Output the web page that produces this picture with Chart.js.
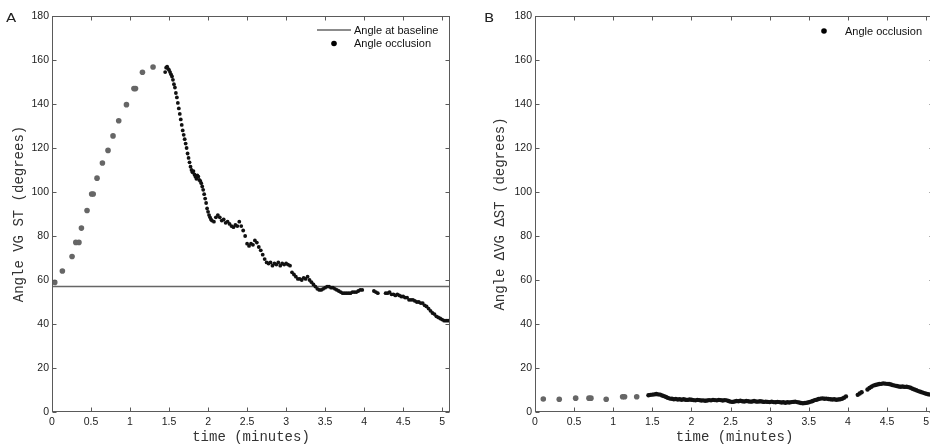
<!DOCTYPE html>
<html><head><meta charset="utf-8">
<script src="https://cdn.jsdelivr.net/npm/chart.js@4.4.0/dist/chart.umd.min.js"></script>
<style>
html,body{margin:0;padding:0;overflow:hidden;background:#fff;width:930px;height:446px;}
#wa{position:absolute;left:0;top:0;width:465px;height:446px;}
#wb{position:absolute;left:465px;top:0;width:480px;height:446px;}
</style></head><body>
<div id="wa"><canvas id="ca" width="465" height="446"></canvas></div>
<div id="wb"><canvas id="cb" width="480" height="446"></canvas></div>
<script>
// ---------- DATA ----------
const xTicksStep = 0.5;          // time axis: 0 .. 5 (minutes)
const yTicksStep = 20;           // angle axis: 0 .. 180 (degrees)
const baselineAngle = 57;        // panel A horizontal line

// Panel A: early (sparse, grey) samples [time, angle]
const aEarly = [[0.035,58.9],[0.133,64.1],[0.257,70.7],[0.305,77.1],[0.345,77.1],[0.377,83.6],[0.449,91.6],
  [0.508,99.1],[0.528,99.1],[0.577,106.3],[0.646,113.2],[0.718,118.9],[0.782,125.5],[0.855,132.4],
  [0.954,139.7],[1.05,147.0],[1.07,147.0],[1.159,154.4],[1.295,156.8]];

// Panel A: dense (black) samples [time, angle]
const aDense = [[1.45,154.5],[1.4625,156.5],[1.475,157],[1.4875,156],[1.5,155.5],[1.5125,154.5],[1.525,153.5],
  [1.5375,152.5],[1.55,151],[1.5625,149],[1.575,147.5],[1.5875,145],[1.6,143],[1.6125,140.5],[1.625,138],
  [1.6375,135.5],[1.65,133],[1.6625,130.5],[1.675,128],[1.6875,126],[1.7,124],[1.7125,122],[1.725,120],
  [1.7375,117.5],[1.75,115.5],[1.7625,113.5],[1.775,111.5],[1.7875,110],[1.8,109],[1.8125,109.5],[1.825,108],
  [1.8375,107],[1.85,106],[1.8625,107.5],[1.875,107],[1.8875,105.5],[1.9,105],[1.9125,104],[1.925,102.5],
  [1.9375,101],[1.95,99],[1.9625,97],[1.975,95],[1.9875,92.5],[2.0,91],[2.0125,89.5],[2.025,88.5],[2.0375,87.5],
  [2.05,87],[2.075,86.5],[2.1,88.5],[2.125,89.5],[2.15,88.5],[2.175,87],[2.2,87.5],[2.225,86],[2.25,86.5],
  [2.275,85.5],[2.3,84.5],[2.325,84],[2.35,85],[2.375,84.5],[2.4,86.5],[2.425,84.5],[2.45,82.5],[2.475,80],
  [2.5,76.5],[2.525,75.5],[2.55,76.5],[2.575,76],[2.6,78],[2.625,77],[2.65,75],[2.675,73.5],[2.7,71.5],
  [2.725,69.5],[2.75,68],[2.775,67.5],[2.8,68],[2.825,66.5],[2.85,67.5],[2.875,67],[2.9,68],[2.925,66.5],
  [2.95,67.5],[2.975,67],[3.0,67.5],[3.025,67],[3.05,66.5],[3.075,63.5],[3.1,62.5],[3.125,61.5],[3.15,60.5],
  [3.175,60.5],[3.2,60],[3.225,61],[3.25,60.5],[3.275,61.5],[3.3,60],[3.325,59],[3.35,58],[3.375,57],[3.4,56],
  [3.425,55.5],[3.45,55.5],[3.475,56],[3.5,56.5],[3.525,57],[3.55,57],[3.575,56.5],[3.6,56.5],[3.625,56],
  [3.65,55.5],[3.675,55],[3.7,54.5],[3.725,54],[3.75,54],[3.775,54],[3.8,54],[3.825,54],[3.85,54.5],[3.875,54.5],
  [3.9,54.5],[3.925,55],[3.95,55.5],[3.975,55.5],[4.125,55],[4.15,54.5],[4.175,54],[4.275,54],[4.3,54],
  [4.325,54.5],[4.35,53.5],[4.375,53.5],[4.4,53],[4.425,53.5],[4.45,53],[4.475,52.5],[4.5,52.5],[4.525,52],
  [4.55,52],[4.575,51],[4.6,51],[4.625,51],[4.65,50.5],[4.675,50],[4.7,50],[4.725,49.5],[4.75,49.5],[4.775,48.5],
  [4.8,48],[4.825,47],[4.85,46],[4.875,45],[4.9,44.5],[4.925,43.5],[4.95,43],[4.975,42.5],[5.0,42],[5.025,41.5],
  [5.05,41.5],[5.075,41.5],[5.1,41.5]];

// Panel B: early (sparse, grey) samples [time, angle]
const bEarly = [[0.106,5.9],[0.31,5.8],[0.52,6.3],[0.69,6.3],[0.715,6.3],[0.91,5.8],[1.12,6.9],[1.145,6.9],[1.30,6.9]];

// Panel B: dense (black) samples [time, angle]
const bDense = [[1.45,7.6],[1.475,7.8],[1.5,7.9],[1.525,8.0],[1.55,8.2],[1.575,8.0],[1.6,7.9],[1.625,7.5],[1.65,7.2],
  [1.675,6.8],[1.7,6.4],[1.725,6.1],[1.75,6.0],[1.775,5.8],[1.8,5.9],[1.825,5.7],[1.85,5.8],[1.875,5.6],[1.9,5.8],
  [1.925,5.6],[1.95,5.5],[1.975,5.7],[2.0,5.6],[2.025,5.4],[2.05,5.3],[2.075,5.5],[2.1,5.4],[2.125,5.2],[2.15,5.3],
  [2.175,5.1],[2.2,5.2],[2.225,5.4],[2.25,5.3],[2.275,5.5],[2.3,5.4],[2.325,5.3],[2.35,5.5],[2.375,5.4],[2.4,5.2],
  [2.425,5.4],[2.45,5.3],[2.475,5.0],[2.5,4.7],[2.525,4.6],[2.55,4.8],[2.575,5.0],[2.6,4.9],[2.625,5.1],[2.65,4.9],
  [2.675,4.8],[2.7,5.0],[2.725,4.9],[2.75,4.7],[2.775,4.8],[2.8,5.0],[2.825,4.8],[2.85,4.7],[2.875,4.9],[2.9,4.8],
  [2.925,4.6],[2.95,4.7],[2.975,4.6],[3.0,4.5],[3.025,4.7],[3.05,4.5],[3.075,4.4],[3.1,4.6],[3.125,4.5],[3.15,4.3],
  [3.175,4.4],[3.2,4.2],[3.225,4.4],[3.25,4.3],[3.275,4.5],[3.3,4.6],[3.325,4.7],[3.35,4.5],[3.375,4.3],[3.4,4.1],
  [3.425,4.0],[3.45,4.1],[3.475,4.2],[3.5,4.4],[3.525,4.7],[3.55,5.0],[3.575,5.4],[3.6,5.6],[3.625,5.9],[3.65,6.1],
  [3.675,6.2],[3.7,6.0],[3.725,6.1],[3.75,5.9],[3.775,5.8],[3.8,5.7],[3.825,5.8],[3.85,5.6],[3.875,5.7],[3.9,5.8],
  [3.925,6.0],[3.95,6.5],[3.975,7.1],[4.125,7.8],[4.15,8.4],[4.175,9.0],[4.25,10.2],[4.275,10.9],[4.3,11.5],
  [4.325,12.0],[4.35,12.3],[4.375,12.5],[4.4,12.7],[4.425,12.8],[4.45,13.0],[4.475,12.9],[4.5,12.8],[4.525,12.7],
  [4.55,12.5],[4.575,12.2],[4.6,12.0],[4.625,11.8],[4.65,11.6],[4.675,11.5],[4.7,11.6],[4.725,11.4],[4.75,11.5],
  [4.775,11.3],[4.8,11.0],[4.825,10.6],[4.85,10.2],[4.875,9.9],[4.9,9.5],[4.925,9.2],[4.95,8.9],[4.975,8.6],
  [5.0,8.3],[5.025,8.1],[5.05,7.9],[5.075,7.8],[5.1,7.7]];

// ---------- HELPERS ----------
const pts = arr => arr.map(p => ({x: p[0], y: p[1]}));
const SANS = "'Liberation Sans', Arial, Helvetica, sans-serif";
const MONO = "'Liberation Mono', 'Courier New', monospace";

const framePlugin = {
  id: 'frame',
  afterDatasetsDraw(chart) {
    const {ctx, chartArea: a, scales: {x, y}} = chart;
    ctx.save();
    ctx.strokeStyle = '#5a5a5a';
    ctx.lineWidth = 1;
    const L = Math.round(a.left) + 0.5, R = Math.round(a.right) - 0.5,
          T = Math.round(a.top) + 0.5, B = Math.round(a.bottom) - 0.5;
    ctx.strokeRect(L, T, R - L, B - T);
    ctx.beginPath();
    const len = 4;
    x.ticks.forEach(t => {
      const px = Math.round(x.getPixelForValue(t.value)) + 0.5;
      ctx.moveTo(px, B); ctx.lineTo(px, B - len);
      ctx.moveTo(px, T); ctx.lineTo(px, T + len);
    });
    y.ticks.forEach(t => {
      const py = Math.round(y.getPixelForValue(t.value)) + 0.5;
      ctx.moveTo(L, py); ctx.lineTo(L + len, py);
      ctx.moveTo(R, py); ctx.lineTo(R - len, py);
    });
    ctx.stroke();
    ctx.restore();
  }
};

const boxLegendPlugin = {
  id: 'boxLegend',
  afterDraw(chart, args, opts) {
    if (!opts || !opts.items) return;
    const ctx = chart.ctx;
    ctx.save();
    ctx.font = '11px ' + SANS;
    ctx.textBaseline = 'middle';
    ctx.textAlign = 'left';
    opts.items.forEach((it, i) => {
      const ds = chart.data.datasets[it.dataset];
      const yy = opts.top + i * opts.row;
      if (it.kind === 'line') {
        ctx.strokeStyle = ds.borderColor; ctx.lineWidth = 1.5;
        ctx.beginPath(); ctx.moveTo(opts.x0, yy); ctx.lineTo(opts.x1, yy); ctx.stroke();
      } else {
        ctx.fillStyle = '#000';
        ctx.beginPath(); ctx.arc((opts.x0 + opts.x1) / 2, yy, 2.8, 0, Math.PI * 2); ctx.fill();
      }
      ctx.fillStyle = '#111';
      ctx.fillText(ds.label, opts.textX, yy + 0.5);
    });
    ctx.restore();
  }
};

const panelLabelPlugin = {
  id: 'panelLabel',
  afterDraw(chart, args, opts) {
    const ctx = chart.ctx;
    ctx.save();
    ctx.font = '13px ' + "'DejaVu Sans', sans-serif";
    ctx.fillStyle = '#222';
    ctx.textBaseline = 'alphabetic';
    ctx.translate(opts.x, opts.y);
    ctx.scale(1.15, 1);
    ctx.fillText(opts.text, 0, 0);
    ctx.restore();
  }
};

const fmtTick = v => String(Math.round(v * 10) / 10);

function makeOptions(c) {
  return {
    responsive: false, animation: false, devicePixelRatio: 1,
    layout: {padding: {left: 0, right: c.padRight, top: 16, bottom: 0}},
    plugins: {
      legend: {display: false}, tooltip: {enabled: false},
      boxLegend: c.legend,
      panelLabel: c.panel
    },
    scales: {
      x: {
        type: 'linear', min: 0, max: 5.1,
        ticks: {stepSize: xTicksStep, includeBounds: false, padding: 4, color: '#222',
                maxRotation: 0, autoSkip: false, font: {family: SANS, size: 10.5}, callback: fmtTick},
        grid: {display: false, drawTicks: false}, border: {display: false},
        title: {display: true, text: 'time (minutes)', color: '#333',
                font: {family: MONO, size: 14}, padding: {top: 0, bottom: 0}},
        afterFit: s => { s.height = 34; }
      },
      y: {
        type: 'linear', min: 0, max: 180,
        ticks: {stepSize: yTicksStep, includeBounds: false, padding: 3, color: '#222',
                font: {family: SANS, size: 10.5}, callback: fmtTick},
        grid: {display: false, drawTicks: false}, border: {display: false},
        title: {display: true, text: c.yTitle, color: '#333',
                font: {family: MONO, size: 14}, padding: {top: c.yTitlePad, bottom: 0}},
        afterFit: s => { s.width = c.yWidth; }
      }
    }
  };
}

// ---------- PANEL A ----------
new Chart(document.getElementById('ca'), {
  type: 'scatter',
  data: {datasets: [
    {label: 'Angle occlusion', data: pts(aDense), pointRadius: 1.9, pointBorderWidth: 0,
     backgroundColor: '#111', borderColor: '#111'},
    {label: 'Angle occlusion (early)', data: pts(aEarly), pointRadius: 2.8, pointBorderWidth: 0,
     backgroundColor: '#666', borderColor: '#666'},
    {label: 'Angle at baseline', data: [{x: 0, y: baselineAngle}, {x: 5.1, y: baselineAngle}],
     showLine: true, pointRadius: 0, borderColor: '#666', borderWidth: 1.5, backgroundColor: '#666'}
  ]},
  options: makeOptions({
    padRight: 15, yWidth: 52, yTitlePad: 10.6, yTitle: 'Angle VG ST (degrees)',
    legend: {items: [{dataset: 2, kind: 'line'}, {dataset: 0, kind: 'point'}],
             x0: 317, x1: 351, textX: 354, top: 30, row: 13.5},
    panel: {text: 'A', x: 6, y: 22}
  }),
  plugins: [framePlugin, boxLegendPlugin, panelLabelPlugin]
});

// ---------- PANEL B ----------
new Chart(document.getElementById('cb'), {
  type: 'scatter',
  data: {datasets: [
    {label: 'Angle occlusion', data: pts(bDense), pointRadius: 2.2, pointBorderWidth: 0,
     backgroundColor: '#111', borderColor: '#111'},
    {label: 'Angle occlusion (early)', data: pts(bEarly), pointRadius: 2.8, pointBorderWidth: 0,
     backgroundColor: '#666', borderColor: '#666'}
  ]},
  options: makeOptions({
    padRight: 11, yWidth: 70, yTitlePad: 27.3, yTitle: 'Angle \u0394VG \u0394ST (degrees)',
    legend: {items: [{dataset: 0, kind: 'point'}], x0: 352, x1: 366, textX: 380, top: 31, row: 13.5},
    panel: {text: 'B', x: 19, y: 22}
  }),
  plugins: [framePlugin, boxLegendPlugin, panelLabelPlugin]
});
</script>
</body></html>
